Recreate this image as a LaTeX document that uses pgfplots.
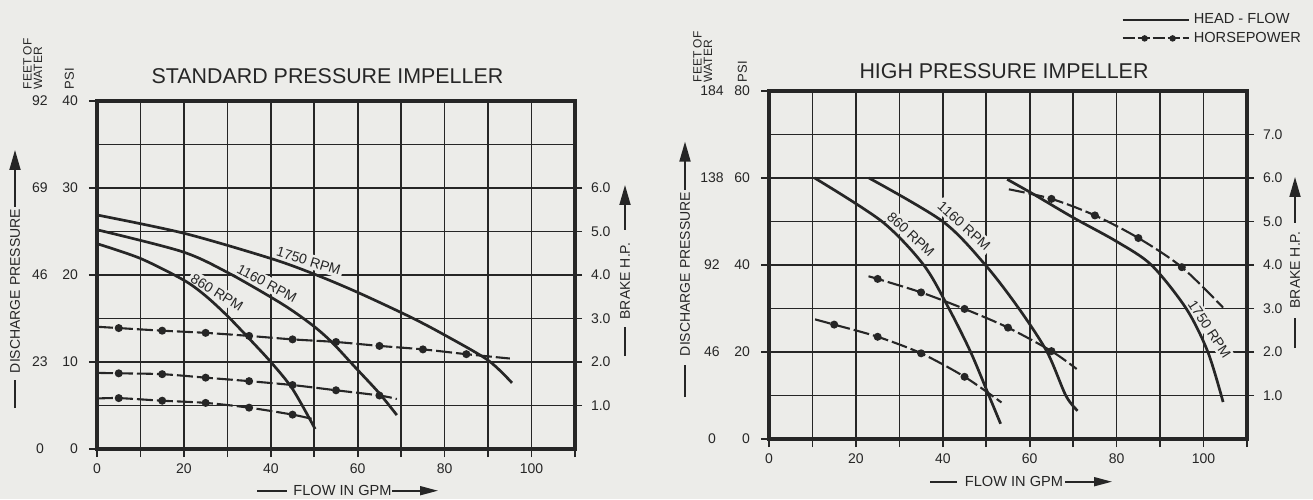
\documentclass[border=0pt]{standalone}
\usepackage{fontspec}
\setmainfont{Liberation Sans}
\usepackage{pgfplots}
\pgfplotsset{compat=1.18}
\usetikzlibrary{arrows.meta}
\definecolor{ink}{RGB}{38,38,38}
\definecolor{paper}{RGB}{236,236,233}

% feet of water / psi pair on the left axis
\newcommand\fp[2]{\makebox[14pt][c]{#1}\makebox[12pt][r]{#2}}

\tikzset{rpm/.style={font=\fontsize{7}{8}\selectfont, text=ink, fill=paper,
  inner sep=1.2pt, outer sep=0.9pt, anchor=south}}

\pgfplotsset{
  pump/.style={
    scale only axis, width=239pt, height=174pt,
    xmin=0, xmax=110,
    axis line style={line width=1.9pt, draw=ink},
    tick pos=left, tick align=outside,
    xtick={0,20,...,100}, minor xtick={10,30,...,110},
    major tick length=4pt, minor tick length=4pt,
    tick style={line width=0.8pt, draw=ink},
    minor y tick style={draw=none},
    grid=both,
    major grid style={line width=0.8pt, draw=ink},
    minor grid style={line width=0.8pt, draw=ink},
    ticklabel style={font=\fontsize{7}{8}\selectfont, text=ink},
    /pgf/number format/assume math mode=true,
    yticklabel style={xshift=-2pt},
  },
  bhp/.style={
    scale only axis, width=239pt, height=174pt,
    xmin=0, xmax=110, ymin=0, ymax=8,
    axis y line*=right, axis x line=none,
    axis line style={line width=1.9pt, draw=ink},
    tick align=outside, major tick length=3.5pt,
    tick style={line width=0.8pt, draw=ink},
    ticklabel style={font=\fontsize{7}{8}\selectfont, text=ink},
    yticklabel style={/pgf/number format/.cd, fixed, fixed zerofill, precision=1, assume math mode=true, /tikz/.cd, xshift=1pt},
  },
  head/.style={ink, line width=1.35pt, smooth, no marks},
  hp/.style={ink, line width=1.05pt, smooth, dash pattern=on 8pt off 2pt,
    mark=*, mark size=1.45pt, mark options={solid, fill=ink}},
}

\begin{document}
\begin{tikzpicture}
\fill[paper] (0,0) rectangle (656.5pt,249.5pt);
\useasboundingbox (0,0) rectangle (656.5pt,249.5pt);

%% ---------------- standard pressure impeller ----------------
\begin{axis}[pump, at={(48.5pt,25pt)}, anchor=south west,
  ymin=0, ymax=40, ytick={0,10,...,40}, minor ytick={5,15,25,35},
  yticklabels={\fp{0}{0},\fp{23}{10},\fp{46}{20},\fp{69}{30},\fp{92}{40}}]
\node[rpm, rotate=-17] at (axis cs:48.1,20.6) {1750 RPM};
\node[rpm, rotate=-28] at (axis cs:38.1,18.1) {1160 RPM};
\node[rpm, rotate=-32] at (axis cs:26.5,17.1) {860 RPM};
% 1750 rpm
\addplot[head] coordinates {(0,26.9) (20,24.8) (40,21.9) (50,20.1) (60,18.0) (72,15.2) (80,13.1) (90,10.2) (95.5,7.6)};
% 1160 rpm
\addplot[head] coordinates {(0,25.2) (19.5,22.7) (30,20.3) (42.5,16.7) (49.4,14.3) (54,12.3) (59.4,9.4) (64.8,6.5) (69,3.9)};
% 860 rpm
\addplot[head] coordinates {(0,23.6) (10,21.9) (20,19.4) (25,17.6) (30,15.3) (35,12.7) (40,10.0) (45,6.9) (50.2,2.3)};
\end{axis}

\begin{axis}[bhp, at={(48.5pt,25pt)}, anchor=south west, ytick={1,...,6}]
\addplot[hp, mark indices={2,3,4,5,6,7,8,9,10}] coordinates {(0,2.81) (5,2.78) (15,2.72) (25,2.67) (35,2.60) (45,2.52) (55,2.46) (65,2.37) (75,2.29) (85,2.18) (95,2.08)};
\addplot[hp, mark indices={2,3,4,5,6,7,8}] coordinates {(0,1.75) (5,1.74) (15,1.72) (25,1.64) (35,1.56) (45,1.47) (55,1.35) (65,1.23) (69,1.15)};
\addplot[hp, mark indices={2,3,4,5,6}] coordinates {(0,1.16) (5,1.17) (15,1.11) (25,1.06) (35,0.95) (45,0.79) (50,0.68)};
\end{axis}

%% ---------------- high pressure impeller ----------------
\begin{axis}[pump, at={(384.5pt,30pt)}, anchor=south west,
  ymin=0, ymax=80, ytick={0,20,...,80}, minor ytick={10,30,50,70},
  yticklabels={\fp{0}{0},\fp{46}{20},\fp{92}{40},\fp{138}{60},\fp{184}{80}}]
\node[rpm, rotate=-43] at (axis cs:31.2,45.5) {860 RPM};
\node[rpm, rotate=-42] at (axis cs:43.5,47.4) {1160 RPM};
\node[rpm, rotate=-57] at (axis cs:99.6,24.1) {1750 RPM};
% 860 rpm
\addplot[head] coordinates {(10.5,60) (26,50) (35.6,40) (41.4,30) (46.4,20) (50.6,10) (53.3,3.5)};
% 1160 rpm
\addplot[head] coordinates {(23,60) (40,50) (49.8,40) (57.5,30) (64,20) (68.3,10) (71,6.5)};
% 1750 rpm
\addplot[head] coordinates {(54.8,59.7) (61,56.2) (70,50.9) (80,45.4) (88,40) (96,30) (101,20) (104.5,8.5)};
\end{axis}

\begin{axis}[bhp, at={(384.5pt,30pt)}, anchor=south west, ytick={1,...,7},
  legend style={at={(axis description cs:1.122,1.235)}, anchor=north east,
    draw=none, fill=none, inner sep=0pt, row sep=-1.5pt,
    font=\fontsize{7.3}{8}\selectfont, text=ink},
  legend cell align=left]
\addlegendimage{legend image code/.code={\draw[ink, line width=1.2pt] (0pt,0pt) -- (33pt,0pt);}}
\addlegendentry{HEAD - FLOW}
\addlegendimage{legend image code/.code={%
  \draw[ink, line width=1pt, dash pattern=on 6pt off 1.5pt] (0pt,0pt) -- (33pt,0pt);
  \fill[ink] (11pt,0pt) circle (1.4pt); \fill[ink] (25pt,0pt) circle (1.4pt);}}
\addlegendentry{HORSEPOWER}
\addplot[hp, mark indices={2,3,4,5}] coordinates {(10.6,2.75) (15,2.63) (25,2.35) (35,1.97) (45,1.43) (53.5,0.84)};
\addplot[hp, mark indices={2,3,4,5,6}] coordinates {(22.9,3.74) (25,3.68) (35,3.37) (45,2.99) (55,2.56) (65,2.02) (70.8,1.61)};
\addplot[hp, mark indices={2,3,4,5}] coordinates {(55.2,5.74) (65,5.52) (75,5.14) (85,4.62) (95,3.95) (104.5,3.02)};
\end{axis}

%% ---------------- titles and axis captions ----------------
\begin{scope}[ink, line width=0.9pt]
\node[anchor=base, font=\fontsize{10.7}{12}\selectfont] at (163.75pt,207.5pt) {STANDARD PRESSURE IMPELLER};
\node[anchor=base, font=\fontsize{10.7}{12}\selectfont] at (502pt,210pt) {HIGH PRESSURE IMPELLER};

\node[rotate=90, anchor=south west, inner sep=0pt, font=\fontsize{6.5}{7}\selectfont] at (37.5pt,204.5pt) {PSI};
\node[rotate=90, anchor=south west, inner sep=0pt, align=left, font=\fontsize{6}{5.3}\selectfont] at (21.5pt,204.5pt) {FEET OF\\WATER};
\node[rotate=90, anchor=south west, inner sep=0pt, font=\fontsize{6.5}{7}\selectfont] at (374pt,208pt) {PSI};
\node[rotate=90, anchor=south west, inner sep=0pt, align=left, font=\fontsize{6}{5.3}\selectfont] at (356.5pt,208pt) {FEET OF\\WATER};

% discharge pressure
\node[rotate=90, font=\fontsize{7}{8}\selectfont] at (7.5pt,104pt) {DISCHARGE PRESSURE};
\draw (7.5pt,45.5pt) -- (7.5pt,59.5pt);
\draw[-{Triangle[length=10pt,width=5.5pt]}] (7.5pt,146pt) -- (7.5pt,174.5pt);
\node[rotate=90, font=\fontsize{7}{8}\selectfont] at (342.5pt,112.5pt) {DISCHARGE PRESSURE};
\draw (342.5pt,51pt) -- (342.5pt,67pt);
\draw[-{Triangle[length=10pt,width=5.5pt]}] (342.5pt,154.5pt) -- (342.5pt,178.7pt);

% brake h.p.
\node[rotate=90, font=\fontsize{7}{8}\selectfont] at (312.5pt,109pt) {BRAKE H.P.};
\draw (312.5pt,71.5pt) -- (312.5pt,86pt);
\draw[-{Triangle[length=10pt,width=5.5pt]}] (312.5pt,134.5pt) -- (312.5pt,157pt);
\node[rotate=90, font=\fontsize{7}{8}\selectfont] at (647.5pt,114.5pt) {BRAKE H.P.};
\draw (647.5pt,75.5pt) -- (647.5pt,90.5pt);
\draw[-{Triangle[length=10pt,width=5.5pt]}] (647.5pt,138pt) -- (647.5pt,161pt);

% flow in gpm
\node[anchor=base, font=\fontsize{7.3}{8}\selectfont] at (171.25pt,1.6pt) {FLOW IN GPM};
\draw (128.5pt,4.15pt) -- (143.5pt,4.15pt);
\draw[-{Triangle[length=9pt,width=4.5pt]}] (196pt,4.15pt) -- (219pt,4.15pt);
\node[anchor=base, font=\fontsize{7.3}{8}\selectfont] at (507pt,6.15pt) {FLOW IN GPM};
\draw (465pt,8.65pt) -- (478.5pt,8.65pt);
\draw[-{Triangle[length=9pt,width=4.5pt]}] (532.5pt,8.65pt) -- (556pt,8.65pt);
\end{scope}
\end{tikzpicture}
\end{document}
